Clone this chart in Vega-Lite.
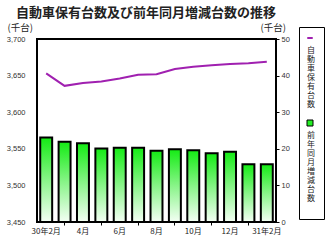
{
  "$schema": "https://vega.github.io/schema/vega-lite/v6.json",
  "width": 239,
  "height": 183,
  "autosize": {"type": "none"},
  "padding": {"left": 37, "top": 39, "right": 49, "bottom": 19},
  "title": {
    "text": "自動車保有台数及び前年同月増減台数の推移",
    "font": "Noto Sans CJK JP",
    "fontSize": 13,
    "fontWeight": "bold",
    "color": "#222222",
    "frame": "group",
    "anchor": "start",
    "dx": -21,
    "baseline": "middle",
    "offset": -3
  },
  "config": {
    "view": {"stroke": "black", "strokeWidth": 2},
    "axis": {
      "labelFont": "Liberation Sans",
      "labelFontSize": 7.5,
      "labelColor": "#333333",
      "titleFont": "Noto Sans CJK JP",
      "titleFontSize": 9.5,
      "titleFontWeight": "normal",
      "titleColor": "#222222",
      "grid": false,
      "domain": false,
      "tickColor": "black"
    }
  },
  "data": {
    "values": [
      {"month": "30年2月", "total": 3653, "diff": 23.1},
      {"month": "3月", "total": 3636, "diff": 21.9},
      {"month": "4月", "total": 3640, "diff": 21.5},
      {"month": "5月", "total": 3642, "diff": 20.1},
      {"month": "6月", "total": 3646, "diff": 20.3},
      {"month": "7月", "total": 3651, "diff": 20.3},
      {"month": "8月", "total": 3652, "diff": 19.5},
      {"month": "9月", "total": 3659, "diff": 19.9},
      {"month": "10月", "total": 3662, "diff": 19.6},
      {"month": "11月", "total": 3664, "diff": 18.8},
      {"month": "12月", "total": 3666, "diff": 19.2},
      {"month": "1月", "total": 3667, "diff": 15.8},
      {"month": "31年2月", "total": 3669, "diff": 15.8}
    ]
  },
  "encoding": {
    "x": {
      "field": "month",
      "type": "nominal",
      "sort": null,
      "scale": {"paddingInner": 0.35, "paddingOuter": 0.175},
      "axis": {
        "title": null,
        "labelAngle": 0,
        "labelFont": "Noto Sans CJK JP",
        "labelFontSize": 8,
        "labelColor": "#222222",
        "tickSize": 3,
        "labelPadding": 2,
        "labelExpr": "indexof(['3月','5月','7月','9月','11月','1月'], datum.value) >= 0 ? '' : datum.value",
        "tickOpacity": {"condition": {"test": "indexof(['3月','5月','7月','9月','11月','1月'], datum.value) >= 0", "value": 1}, "value": 0}
      }
    }
  },
  "layer": [
    {
      "mark": {"type": "line", "strokeWidth": 2},
      "encoding": {
        "y": {
          "field": "total",
          "type": "quantitative",
          "scale": {"domain": [3450, 3700]},
          "axis": {
            "orient": "left",
            "values": [3450, 3500, 3550, 3600, 3650, 3700],
            "format": ",.0f",
            "ticks": false,
            "labelPadding": 12,
            "title": "(千台)",
            "titleAngle": 0,
            "titleAlign": "left",
            "titleBaseline": "middle",
            "titleX": -30,
            "titleY": -11.5
          }
        },
        "stroke": {
          "datum": "自動車保有台数",
          "scale": {"domain": ["自動車保有台数", "前年同月増減台数"], "range": ["#a020b0", "black"]},
          "legend": {
            "orient": "none",
            "legendX": 262,
            "legendY": -12,
            "direction": "vertical",
            "title": null,
            "strokeColor": "black",
            "fillColor": "white",
            "padding": 7,
            "rowPadding": 0,
            "labelFont": "Noto Sans CJK JP",
            "labelFontSize": 8,
            "labelColor": "#222222",
            "labelAlign": "center",
            "labelBaseline": "top",
            "labelOffset": -3,
            "labelExpr": "split(' ' + datum.label + ' ', '')",
            "encode": {
              "labels": {"update": {"lineHeight": {"value": 9}}},
              "symbols": {
                "update": {
                  "shape": {"signal": "datum.value === '自動車保有台数' ? 'stroke' : 'square'"},
                  "fill": {"signal": "datum.value === '自動車保有台数' ? 'transparent' : '#22ee22'"},
                  "stroke": {"signal": "datum.value === '自動車保有台数' ? '#a020b0' : 'black'"},
                  "strokeWidth": {"signal": "datum.value === '自動車保有台数' ? 2 : 1"},
                  "size": {"signal": "datum.value === '自動車保有台数' ? 30 : 36"}
                }
              }
            }
          }
        }
      }
    },
    {
      "mark": {
        "type": "bar",
        "strokeWidth": 2,
        "fill": {
          "gradient": "linear",
          "x1": 0, "y1": 0, "x2": 0, "y2": 1,
          "stops": [
            {"offset": 0, "color": "#14ec14"},
            {"offset": 0.5, "color": "#88f488"},
            {"offset": 1, "color": "#f4fff4"}
          ]
        }
      },
      "encoding": {
        "y": {
          "field": "diff",
          "type": "quantitative",
          "scale": {"domain": [0, 50]},
          "axis": {
            "orient": "right",
            "values": [0, 10, 20, 30, 40, 50],
            "tickSize": 3,
            "labelPadding": 2,
            "title": "(千台)",
            "titleAngle": 0,
            "titleAlign": "left",
            "titleBaseline": "middle",
            "titleX": -16,
            "titleY": -11.5
          }
        },
        "stroke": {"datum": "前年同月増減台数"}
      }
    }
  ],
  "resolve": {"scale": {"y": "independent"}}
}
